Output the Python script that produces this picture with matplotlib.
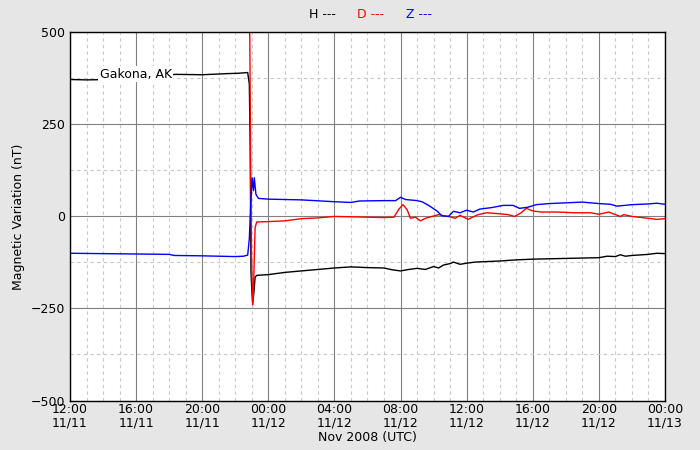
import matplotlib
matplotlib.use("Agg")
import matplotlib.pyplot as plt
import matplotlib.dates as mdates
import numpy as np
from datetime import datetime, timedelta

# hours since 2008-11-11 12:00 UTC, value in nT
h_hours = [0, 1, 2.4, 6.4, 8, 9.5, 10.2, 10.75, 10.85, 10.9, 10.95, 11.0, 11.05, 11.12, 11.2, 11.3,
           12, 13, 14, 15, 16, 17, 18, 19, 19.5, 20, 20.5, 21, 21.5, 22, 22.3, 22.6, 23, 23.2, 23.6,
           24, 24.5, 25, 26, 27, 28, 29, 30, 31, 32, 32.5, 33, 33.3, 33.6, 34, 35, 35.5, 36]
h_vals = [372, 371, 372, 386, 385, 388, 389, 391, 360, 200, -150, -200, -234, -210, -165, -160,
          -158, -152, -148, -144, -140, -137, -139, -140, -145, -148, -144, -141, -144, -136, -140, -132, -128, -124, -130,
          -127, -124, -123, -121, -118, -116, -115, -114, -113, -112, -108, -109, -104, -108, -106, -103, -100, -101]

d_hours = [10.85, 10.88, 10.92, 10.98, 11.05, 11.1, 11.2, 11.3, 12, 13, 14, 15, 16, 17, 18, 19, 19.6, 19.9,
           20.15, 20.4, 20.6, 20.9, 21.2, 21.5, 21.9, 22.3, 22.6, 22.9, 23.3, 23.6, 24.1, 24.3, 24.7, 25.2,
           25.8, 26.5, 26.9, 27.3, 27.6, 28, 28.5, 29.5, 30.5, 31.5, 32, 32.6, 33, 33.3, 33.5, 34, 35, 35.5, 36]
d_vals = [560, 480, 200, -100, -240, -200, -30, -15, -14, -12, -6, -4, 0, -1, -2, -3, -2, 20,
          32, 18, -5, -2, -12, -5, 0, 5, 2, 0, -5, 3, -8, -3, 5, 10,
          8, 5, 0, 10, 22, 15, 12, 12, 10, 10, 6, 12, 5, 0, 5, 0, -5, -8, -6]

z_hours = [0, 4, 6, 6.3, 8, 10, 10.5, 10.75, 10.85, 10.95, 11.02, 11.1, 11.15, 11.25, 11.4, 12, 14, 16, 17,
           17.5, 19, 19.7, 20.0, 20.3, 21, 21.3, 21.7, 22.2, 22.5, 22.9, 23.2, 23.6, 24, 24.4, 24.8, 25.5,
           26.2, 26.8, 27.2, 27.7, 28.2, 29, 30, 31, 32, 32.7, 33.1, 34, 35, 35.5, 36]
z_vals = [-100, -102, -103, -106, -107, -109, -108, -105, -60, 50, 105, 70, 105, 60, 49, 47, 45, 40, 38,
          42, 43, 43, 52, 46, 43, 40, 30, 15, 2, 0, 14, 10, 17, 12, 20, 24,
          30, 30, 22, 25, 32, 35, 37, 39, 35, 33, 28, 32, 34, 36, 33]

start = datetime(2008, 11, 11, 12, 0)
to_dt = lambda hrs: [start + timedelta(hours=x) for x in hrs]

bg = '#e6e6e6'
fig = plt.figure(figsize=(7, 4.5), dpi=100, facecolor=bg)
ax = fig.add_axes([0.1, 0.11, 0.85, 0.818])

ax.plot(to_dt(h_hours), h_vals, color='black', lw=1)
ax.plot(to_dt(d_hours), d_vals, color='red', lw=1)
ax.plot(to_dt(z_hours), z_vals, color='blue', lw=1)

ax.set_xlim(start, start + timedelta(hours=36))
ax.set_ylim(-500, 500)
ax.set_yticks([-500, -250, 0, 250, 500])
ax.set_yticks(np.arange(-500, 501, 125), minor=True)
ax.xaxis.set_major_locator(mdates.HourLocator(byhour=range(0, 24, 4)))
ax.xaxis.set_minor_locator(mdates.HourLocator())
ax.xaxis.set_major_formatter(mdates.DateFormatter('%H:%M\n%m/%d'))

ax.grid(which='major', color='#808080', lw=0.8, ls='-')
ax.grid(which='minor', color='#c8c8c8', lw=0.8, ls=(0, (3, 3)))
ax.tick_params(which='both', direction='in', length=0, labelsize=9)
ax.tick_params(axis='x', pad=2)
for lbl in ax.get_xticklabels():
    lbl.set_linespacing(1.05)
for s in ax.spines.values():
    s.set_linewidth(1)

ax.set_xlabel('Nov 2008 (UTC)', fontsize=9, labelpad=1)
ax.set_ylabel('Magnetic Variation (nT)', fontsize=9)

ax.text(start + timedelta(hours=1.8), 386, 'Gakona, AK', fontsize=9, va='center',
        bbox=dict(facecolor='white', edgecolor='none', pad=1))

fig.text(0.46, 0.968, 'H ---', color='black', fontsize=9, ha='center', va='center')
fig.text(0.529, 0.968, 'D ---', color='red', fontsize=9, ha='center', va='center')
fig.text(0.598, 0.968, 'Z ---', color='blue', fontsize=9, ha='center', va='center')

fig.savefig('out.png', dpi=100, facecolor=bg)
